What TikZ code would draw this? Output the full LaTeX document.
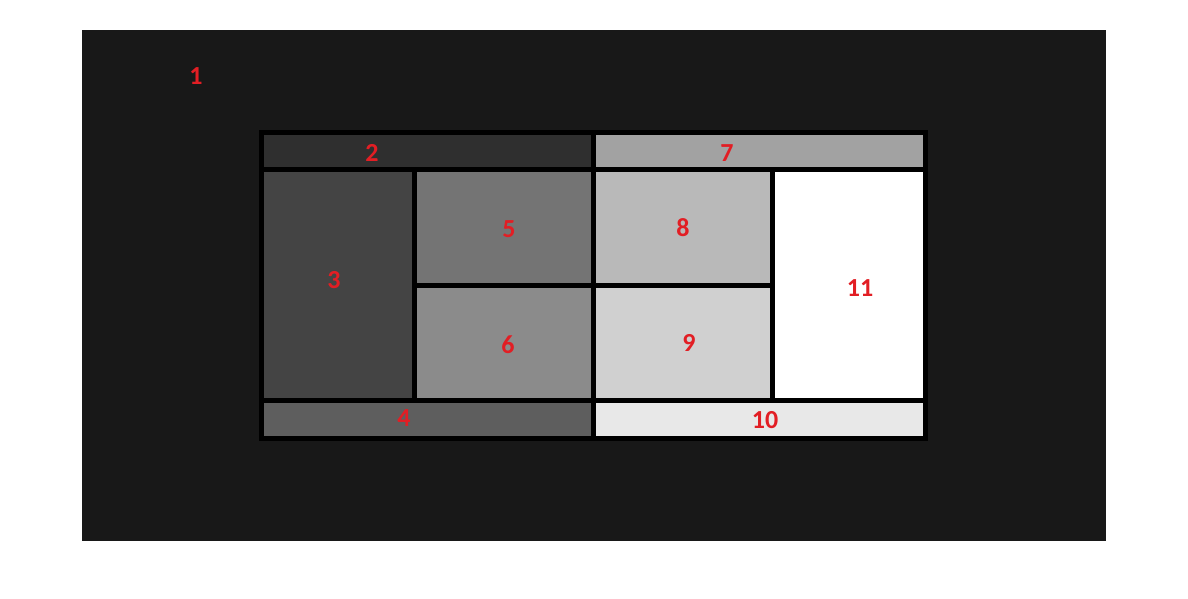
\documentclass[tikz,border=0pt]{standalone}
\usepackage{fontspec}
\setmainfont{Carlito}
\usepackage{tikz}

\definecolor{lab}{RGB}{226,30,36}
\definecolor{g1}{gray}{0.094}
\definecolor{g2}{gray}{0.184}
\definecolor{g3}{gray}{0.267}
\definecolor{g4}{gray}{0.369}
\definecolor{g5}{gray}{0.455}
\definecolor{g6}{gray}{0.545}
\definecolor{g7}{gray}{0.635}
\definecolor{g8}{gray}{0.725}
\definecolor{g9}{gray}{0.816}
\definecolor{g10}{gray}{0.91}

\tikzset{cell/.style={draw=black,line width=5pt},
  num/.style={text=lab,font=\fontsize{26}{26}\selectfont\bfseries,inner sep=0pt}}

\begin{document}
\begin{tikzpicture}[x=1pt,y=-1pt]
\useasboundingbox[fill=white] (0,0) rectangle (1188,598);
\fill[g1] (82,30) rectangle (1106,541);

\draw[cell,fill=g2] (261.5,132.5) rectangle (593.3,169.8);
\draw[cell,fill=g7] (593.3,132.5) rectangle (925.5,169.8);
\draw[cell,fill=g3] (261.5,169.8) rectangle (414.3,400.2);
\draw[cell,fill=g5] (414.3,169.8) rectangle (593.3,285.2);
\draw[cell,fill=g6] (414.3,285.2) rectangle (593.3,400.2);
\draw[cell,fill=g8] (593.3,169.8) rectangle (772.8,285.2);
\draw[cell,fill=g9] (593.3,285.2) rectangle (772.8,400.2);
\draw[cell,fill=white] (772.8,169.8) rectangle (925.5,400.2);
\draw[cell,fill=g4] (261.5,400.2) rectangle (593.3,438.5);
\draw[cell,fill=g10] (593.3,400.2) rectangle (925.5,438.5);

% labels
\node[num] (n1) at (196,76) {1};
\node[num] (n2) at (372,153) {2};
\node[num] (n3) at (334,280) {3};
\node[num] (n4) at (404,418) {4};
\node[num] (n5) at (509,229) {5};
\node[num] (n6) at (508,345) {6};
\node[num] (n7) at (727,153) {7};
\node[num] (n8) at (683,228) {8};
\node[num] (n9) at (689,343) {9};
\node[num] (n10) at (765,420) {10};
\node[num] (n11) at (860,288) {11};

\end{tikzpicture}
\end{document}
